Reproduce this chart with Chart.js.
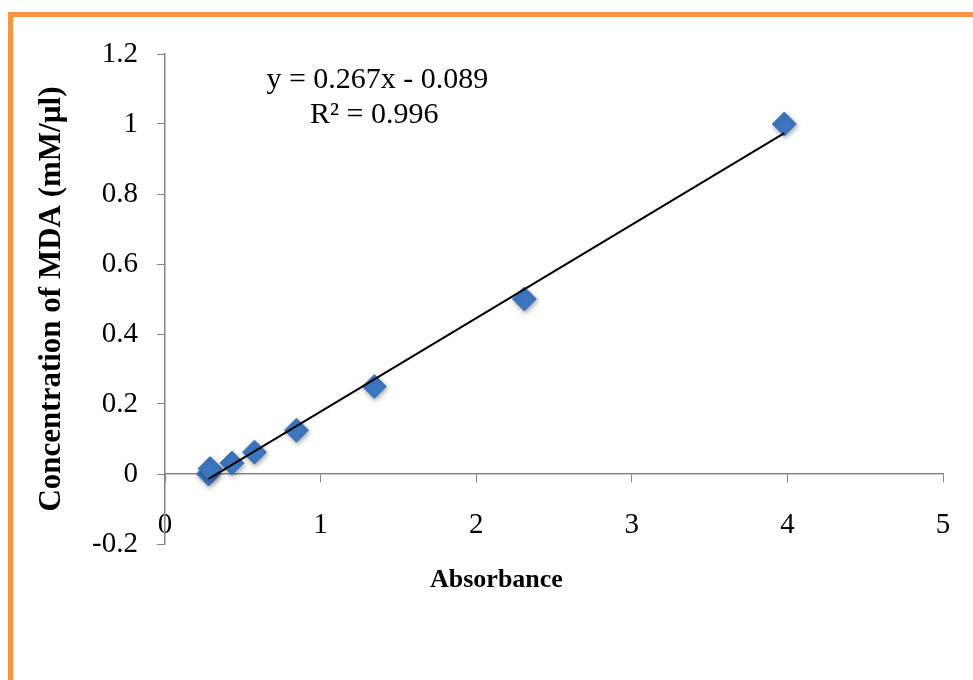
<!DOCTYPE html>
<html>
<head>
<meta charset="utf-8">
<script src="https://cdn.jsdelivr.net/npm/chart.js@4.4.1/dist/chart.umd.min.js"></script>
<style>
	html, body { margin: 0; padding: 0; background: #ffffff; overflow: hidden; }
	#frame { position: absolute; left: 8px; top: 12px; width: 1100px; height: 800px; border: 5px solid #F79646; box-sizing: border-box; }
	#wrap { position: absolute; left: 0; top: 0; width: 973px; height: 680px; }
</style>
</head>
<body>
<div id="frame"></div>
<div id="wrap"><canvas id="chart" width="973" height="680"></canvas></div>
<script>
	// values
	const absorbance = [0.28, 0.29, 0.43, 0.575, 0.845, 1.345, 2.31, 3.98];
	const concentration = [0, 0.0156, 0.03125, 0.0625, 0.125, 0.25, 0.5, 1];
	const trendX = [0.28, 3.98];
	const trendY = [-0.0142, 0.974];
	const xTicks = [0, 1, 2, 3, 4, 5];
	const yTicks = [-0.2, 0, 0.2, 0.4, 0.6, 0.8, 1, 1.2];
	const equationLines = ["y = 0.267x - 0.089", "R\u00b2 = 0.996"];
	const xTitle = "Absorbance";
	const yTitle = "Concentration of MDA (mM/\u00b5l)";

	const serif = "'Liberation Serif', 'Times New Roman', serif";
	const axisGrey = "#868686";

	// equation of the trend line and the x title, placed in data units
	const textLabels = {
		id: "textLabels",
		afterDatasetsDraw(chart) {
			const { ctx, scales } = chart;
			ctx.save();
			ctx.fillStyle = "#000000";
			ctx.textAlign = "center";
			ctx.textBaseline = "middle";
			ctx.font = "30px " + serif;
			ctx.fillText(equationLines[0], scales.x.getPixelForValue(1.365), scales.y.getPixelForValue(1.124));
			ctx.fillText(equationLines[1], scales.x.getPixelForValue(1.345), scales.y.getPixelForValue(1.024));
			ctx.font = "bold 26px " + serif;
			ctx.fillText(xTitle, scales.x.getPixelForValue(2.13), scales.y.getPixelForValue(-0.303));
			ctx.restore();
		}
	};

	const markerShadow = {
		id: "markerShadow",
		beforeDatasetDraw(chart, args) {
			if (args.index !== 1) return;
			const ctx = chart.ctx;
			ctx.save();
			ctx.shadowColor = "rgba(0, 0, 0, 0.35)";
			ctx.shadowBlur = 5;
			ctx.shadowOffsetX = 1;
			ctx.shadowOffsetY = 2;
		},
		afterDatasetDraw(chart, args) {
			if (args.index !== 1) return;
			chart.ctx.restore();
		}
	};

	new Chart(document.getElementById("chart"), {
		type: "scatter",
		data: {
			datasets: [
				{
					type: "line",
					data: trendX.map((x, i) => ({ x, y: trendY[i] })),
					borderColor: "#000000",
					borderWidth: 2,
					pointRadius: 0,
					fill: false
				},
				{
					data: absorbance.map((x, i) => ({ x, y: concentration[i] })),
					pointStyle: "rectRot",
					pointRadius: 12,
					backgroundColor: "#3D76C1",
					borderColor: "#3D76C1",
					borderWidth: 1
				}
			]
		},
		options: {
			responsive: false,
			animation: false,
			layout: { padding: { top: 54, right: 30, bottom: 136, left: 0 } },
			plugins: { legend: { display: false }, tooltip: { enabled: false } },
			scales: {
				x: {
					type: "linear",
					position: { y: 0 },
					min: 0,
					max: 5,
					afterBuildTicks(scale) { scale.ticks = xTicks.map((value) => ({ value })); },
					afterFit(scale) { scale.paddingLeft = 0; scale.paddingRight = 0; },
					ticks: { color: "#000000", font: { family: serif, size: 29 }, padding: 26 },
					grid: { drawOnChartArea: false, drawTicks: true, tickLength: 8, color: axisGrey },
					border: { color: axisGrey, width: 1.5 }
				},
				y: {
					type: "linear",
					min: -0.2,
					max: 1.2,
					afterBuildTicks(scale) { scale.ticks = yTicks.map((value) => ({ value })); },
					afterFit(scale) { scale.width = 165; },
					ticks: { color: "#000000", font: { family: serif, size: 29 }, padding: 19, callback: (v) => String(Math.round(v * 10) / 10) },
					grid: { drawOnChartArea: false, drawTicks: true, tickLength: 8, color: axisGrey },
					border: { color: axisGrey, width: 1.5 },
					title: { display: true, text: yTitle, color: "#000000", font: { family: serif, size: 31, weight: "bold" }, padding: { top: 33, bottom: 0 } }
				}
			}
		},
		plugins: [textLabels, markerShadow]
	});
</script>
</body>
</html>
